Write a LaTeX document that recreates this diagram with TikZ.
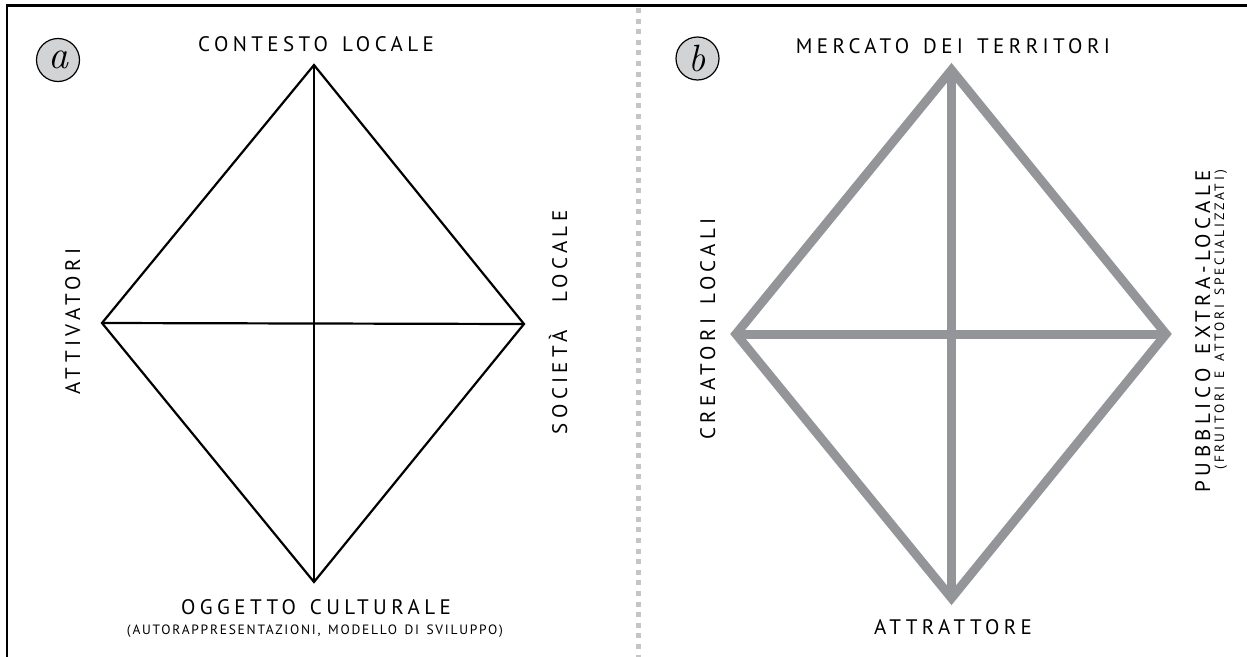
\documentclass[tikz,border=0pt]{standalone}
\usepackage{fontspec}
\setmainfont{PT Sans}
\newfontfamily\labfont[LetterSpace=21,WordSpace=1.3]{PT Sans}
\newfontfamily\subfont[LetterSpace=13,WordSpace=1.4]{PT Sans}
\newfontfamily\subfontb[LetterSpace=21,WordSpace=1.4]{PT Sans}
\newfontfamily\lmfont{Latin Modern Roman}
\definecolor{diagray}{HTML}{939598}
\definecolor{divgray}{HTML}{C4C5C7}
\definecolor{circgray}{HTML}{D2D3D5}
\tikzset{
  frameline/.style={line width=2.5, line join=miter},
  divline/.style={line width=5, color=divgray, dash pattern=on 5 off 5.6},
  blackedge/.style={line width=2.2, line join=miter},
  grayedge/.style={line width=9, color=diagray, line join=miter},
  badge/.style={circle, draw, fill=circgray, line width=1.2, minimum size=43, inner sep=0pt},
  mainlab/.style={inner sep=0pt, font=\labfont\fontsize{21}{24}\selectfont},
  sublab/.style={inner sep=0pt, font=\subfont\fontsize{13.5}{16}\selectfont},
  sublabb/.style={inner sep=0pt, font=\subfontb\fontsize{13.5}{16}\selectfont},
}
\begin{document}
\begin{tikzpicture}[x=1pt,y=-1pt]
\useasboundingbox (0,0) rectangle (1247,656);
% frame and divider
\coordinate (fbl) at (7,660);
\coordinate (ftl) at (7,5.5);
\coordinate (ftr) at (1250,5.5);
\draw[frameline] (fbl) -- (ftl) -- (ftr);
\coordinate (dtop) at (638,8);
\coordinate (dbot) at (638,660);
\draw[divline] (dtop) -- (dbot);
% badges
\node[badge] (ba) at (58,60) {\fontsize{40}{40}\selectfont\lmfont\itshape a};
\node[badge] (bb) at (697.5,58.5) {\fontsize{38}{38}\selectfont\lmfont\itshape b};
% diagram a
\coordinate (at) at (314,65);
\coordinate (al) at (102,323);
\coordinate (ar) at (524,324);
\coordinate (ab) at (314,582);
\draw[blackedge] (at) -- (ar) -- (ab) -- (al) -- cycle;
\draw[blackedge] (at) -- (ab);
\draw[blackedge] (al) -- (ar);
% diagram b
\coordinate (bt) at (951.5,70);
\coordinate (bl) at (736,334);
\coordinate (br) at (1166,334);
\coordinate (bbm) at (951.5,598);
\draw[grayedge] (bt) -- (br) -- (bbm) -- (bl) -- cycle;
\draw[grayedge] (bt) -- (bbm);
\draw[grayedge] (bl) -- (br);
% labels a
\node[mainlab, anchor=base] (lcont) at (316,51) {CONTESTO LOCALE};
\node[mainlab, anchor=base, rotate=90] (latt) at (80,321.5) {ATTIVATORI};
\node[mainlab, anchor=base, rotate=90] (lsoc) at (567,322.5) {SOCIETÀ\ \ LOCALE};
\node[mainlab, anchor=base] (logg) at (316,614) {OGGETTO CULTURALE};
\node[sublab, anchor=base] (loggs) at (315,634) {(AUTORAPPRESENTAZIONI, MODELLO DI SVILUPPO)};
% labels b
\node[mainlab, anchor=base] (lmerc) at (953,53) {MERCATO DEI TERRITORI};
\node[mainlab, anchor=base, rotate=90] (lcrea) at (715,329) {CREATORI LOCALI};
\node[mainlab, anchor=base east, rotate=90] (lpub) at (1210,170) {PUBBLICO EXTRA-LOCALE};
\node[sublabb, anchor=base east, rotate=90] (lpubs) at (1224,170) {(FRUITORI E ATTORI SPECIALIZZATI)};
\node[mainlab, anchor=base] (lattr) at (953,634) {ATTRATTORE};
\end{tikzpicture}
\end{document}
